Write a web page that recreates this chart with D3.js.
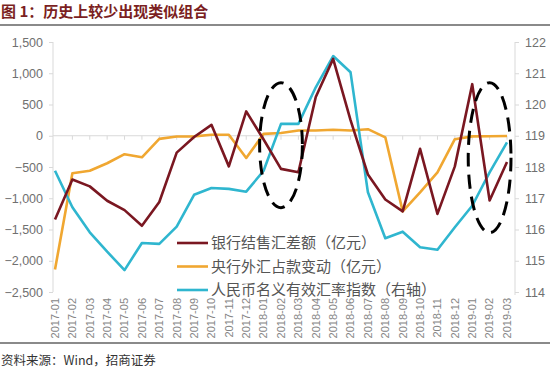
<!DOCTYPE html>
<html>
<head>
<meta charset="utf-8">
<script src="https://cdn.jsdelivr.net/npm/d3@7"></script>
<style>
	body { margin: 0; background: #fff; }
	svg { display: block; font-family: "Liberation Sans", "Noto Sans CJK SC", sans-serif; }
	.axis text { fill: #707070; }
	.cjk { font-family: "Noto Sans CJK SC", sans-serif; }
</style>
</head>
<body>
<svg id="chart"></svg>
<script>
const months = ['2017-01','2017-02','2017-03','2017-04','2017-05','2017-06','2017-07','2017-08','2017-09',
				'2017-10','2017-11','2017-12','2018-01','2018-02','2018-03','2018-04','2018-05','2018-06',
				'2018-07','2018-08','2018-09','2018-10','2018-11','2018-12','2019-01','2019-02','2019-03'];

// 银行结售汇差额（亿元）
const bankNet = [-1340, -700, -810, -1040, -1190, -1440, -1060, -270, -20, 175, -490, 390, -60, -530, -585,
				 620, 1230, 250, -620, -1020, -1210, -210, -1250, -490, 825, -1035, -420];
// 央行外汇占款变动（亿元）
const pbocFx = [-2140, -600, -560, -440, -295, -345, -50, -12, -10, 15, 15, -355, 30, 45, 85,
				85, 95, 85, 105, -25, -1210, -905, -585, -55, -10, -8, -5];
// 人民币名义有效汇率指数（右轴）
const neer = [117.88, 116.71, 115.91, 115.29, 114.70, 115.57, 115.54, 116.09, 117.11, 117.33, 117.30, 117.21, 117.88, 119.38, 119.38,
			  120.55, 121.55, 121.03, 117.19, 115.72, 115.93, 115.43, 115.35, 116.07, 116.76, 117.83, 118.79];

const leftTicks = [1500, 1000, 500, 0, -500, -1000, -1500, -2000, -2500];
const rightTicks = [122, 121, 120, 119, 118, 117, 116, 115, 114];

const seriesNames = ['银行结售汇差额（亿元）', '央行外汇占款变动（亿元）', '人民币名义有效汇率指数（右轴）'];
const seriesColors = ['#7a1721', '#f0a731', '#2fb6cf'];

// dashed ellipses: month span + left-axis value span
const highlights = [{from: '2018-01', to: '2018-03', top: 850, bottom: -1150},
					{from: '2019-01', to: '2019-03', top: 850, bottom: -1550}];

const title = '图 1：历史上较少出现类似组合';
const source = '资料来源：Wind，招商证券';

const width = 550, height = 371;
const $svg = d3.select('#chart').attr('width', width).attr('height', height);

// scales
const scaleX = d3.scalePoint().domain(months).range([55, 507]);
const scaleY = d3.scaleLinear().domain([-2500, 1500]).range([292, 42]);
const scaleY2 = d3.scaleLinear().domain([114, 122]).range([292, 42]);

// title + rules
$svg.append('text')
	.attr('class', 'cjk')
	.attr('x', 1)
	.attr('y', 17)
	.style('font-size', '15px')
	.style('font-weight', 'bold')
	.style('fill', '#7b1f22')
	.text(title);

$svg.append('line').attr('x1', 0).attr('x2', width).attr('y1', 25).attr('y2', 25)
	.style('stroke', '#8a8a8a').style('stroke-width', 2);
$svg.append('line').attr('x1', 0).attr('x2', width).attr('y1', 343).attr('y2', 343)
	.style('stroke', '#8a8a8a').style('stroke-width', 2);

$svg.append('text')
	.attr('class', 'cjk')
	.attr('x', 1)
	.attr('y', 365)
	.style('font-size', '12.5px')
	.style('fill', '#333')
	.text(source);

// left axis
const $left = $svg.append('g')
	.attr('class', 'axis axis--left')
	.attr('transform', 'translate(53,0)')
	.call(d3.axisLeft(scaleY).tickValues(leftTicks).tickSize(4).tickPadding(6).tickFormat(d3.format(',')));
$left.selectAll('text').style('font-size', '12.5px');

// right axis
const $right = $svg.append('g')
	.attr('class', 'axis axis--right')
	.attr('transform', 'translate(515,0)')
	.call(d3.axisRight(scaleY2).tickValues(rightTicks).tickSize(4).tickPadding(6));
$right.selectAll('text').style('font-size', '12.5px');

$svg.selectAll('.axis path, .axis line').style('stroke', '#d9d9d9');
$svg.selectAll('.axis .domain').attr('d', function() {
	return d3.select(this.parentNode).classed('axis--left') ? 'M0,292V42' : 'M0,295V42';
});

// category axis sits on the zero line, labels at the bottom
const $xline = $svg.append('g').attr('class', 'axis axis--x');
$xline.append('line')
	.attr('x1', 53).attr('x2', 507)
	.attr('y1', scaleY(0)).attr('y2', scaleY(0))
	.style('stroke', '#d9d9d9');
$xline.selectAll('.tick')
	.data(months.slice(1))
	.enter()
	.append('line')
	.attr('x1', d => scaleX(d)).attr('x2', d => scaleX(d))
	.attr('y1', scaleY(0)).attr('y2', scaleY(0) + 4)
	.style('stroke', '#d9d9d9');

$svg.append('g')
	.attr('class', 'axis')
	.selectAll('text')
	.data(months)
	.enter()
	.append('text')
	.attr('transform', d => 'translate(' + scaleX(d) + ',298) rotate(-90)')
	.attr('dy', '0.35em')
	.attr('text-anchor', 'end')
	.style('font-size', '11px')
	.style('fill', '#858585')
	.text(d => d);

// lines
const lineLeft = d3.line().x((d, i) => scaleX(months[i])).y(d => scaleY(d));
const lineRight = d3.line().x((d, i) => scaleX(months[i])).y(d => scaleY2(d));

const $lines = $svg.append('g').attr('fill', 'none').attr('stroke-width', 2.6).attr('stroke-linejoin', 'round');
$lines.append('path').attr('d', lineLeft(pbocFx)).attr('stroke', seriesColors[1]);
$lines.append('path').attr('d', lineRight(neer)).attr('stroke', seriesColors[2]);
$lines.append('path').attr('d', lineLeft(bankNet)).attr('stroke', seriesColors[0]);

// dashed ellipses
$svg.append('g')
	.selectAll('ellipse')
	.data(highlights)
	.enter()
	.append('ellipse')
	.attr('cx', d => (scaleX(d.from) + scaleX(d.to)) / 2)
	.attr('cy', d => (scaleY(d.top) + scaleY(d.bottom)) / 2)
	.attr('rx', d => (scaleX(d.to) - scaleX(d.from)) / 2 + 4)
	.attr('ry', d => (scaleY(d.bottom) - scaleY(d.top)) / 2)
	.style('fill', 'none')
	.style('stroke', '#000')
	.style('stroke-width', 3)
	.style('stroke-dasharray', '14,8');

// legend
const $legend = $svg.append('g').attr('class', 'legend');
const $items = $legend.selectAll('g')
	.data(seriesNames)
	.enter()
	.append('g')
	.attr('transform', (d, i) => 'translate(177,' + (243 + i * 23.5) + ')');
$items.append('line')
	.attr('x1', 0).attr('x2', 31)
	.style('stroke', (d, i) => seriesColors[i])
	.style('stroke-width', 2.6);
$items.append('text')
	.attr('class', 'cjk')
	.attr('x', 34)
	.attr('dy', '0.35em')
	.style('font-size', '15px')
	.style('fill', '#555')
	.text(d => d);
</script>
</body>
</html>
